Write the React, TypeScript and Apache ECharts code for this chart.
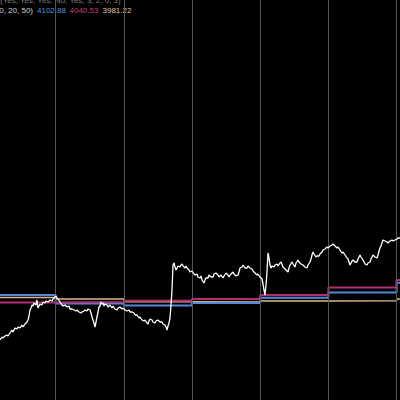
import React, { useEffect, useRef } from "react";
import * as echarts from "echarts";

// time unit: ticks (0..400 visible window); value: index points
const dayStarts = [55.6, 123.8, 192.0, 260.2, 328.4, 396.6];

const maBlue = [4005, 3996.5, 3994.5, 3997, 4002.3, 4007.5, 4017.3];
const maMagenta = [3997.5, 3998, 3999.2, 4001, 4005, 4012.5, 4020];
const maOrange = [4002.5, 4001, 3998.2, 3998, 3999, 3999.2, 4001];

const legendHeader = "(Yes, Yes, Yes, No, Yes, 3, 2, 0, 3)";
const legendTitle = "MA(10, 20, 50)";
const legendValues = ["4102.88", "4040.53", "3981.22"];

const priceT = [
  0, 2, 3, 5, 7, 8, 10, 12, 13, 15, 17, 18, 20, 22, 23, 25, 27, 28, 29, 30, 31, 32, 33, 34, 36, 37, 38, 39, 40, 42, 43, 45, 46, 48, 50, 52, 53, 55, 56,
  57, 58, 60, 62, 63, 65, 67, 69, 70, 72, 74, 76, 77, 79, 81, 82, 84, 85, 87, 88, 90, 91, 92, 93, 95, 96, 97, 98, 99, 100, 101, 102, 103, 104, 105, 107, 108, 110, 112, 113, 115, 117, 118, 120, 122, 123, 125,
  127, 129, 130, 132, 134, 135, 137, 139, 140, 142, 144, 145, 147, 148, 149, 150, 152, 153, 155, 156, 158, 160, 162, 163, 165, 166, 167, 168, 169, 170, 171, 172, 173, 174, 175, 176, 177, 178, 180, 181, 182, 184, 185, 186, 187, 189, 190, 192,
  194, 195, 197, 198, 200, 201, 202, 204, 205, 206, 208, 209, 211, 213, 214, 216, 218, 219, 221, 223, 224, 226, 228, 229, 231, 233, 234, 236, 238, 239, 240, 242, 243, 245, 247, 248, 250, 252, 253, 255, 257, 258, 260, 261, 262, 263, 264, 265, 266, 267, 268, 269, 270,
  271, 272, 274, 275, 277, 278, 280, 281, 283, 285, 286, 288, 289, 290, 292, 293, 295, 296, 298, 299, 301, 303, 305, 307, 308, 310, 311, 312, 313, 314, 316, 317, 319, 320, 322, 323, 325, 327, 328,
  330, 332, 333, 335, 337, 338, 340, 342, 343, 345, 347, 348, 349, 350, 351, 352, 353, 355, 357, 358, 360, 361, 363, 364, 365, 367, 368, 370, 371, 372, 373, 375, 377, 378, 379, 380, 381, 382, 383, 385, 387, 388, 390, 392, 393, 395, 397, 398, 400,
];

const priceV = [
  3960, 3963, 3962, 3964, 3965, 3964, 3967, 3970, 3968, 3972, 3971, 3973, 3972, 3975, 3973, 3976, 3978, 3980, 3984, 3990, 3992, 3995, 3994, 3997, 3995, 4000, 3992, 3994, 3996, 3995, 3998, 3997, 3999, 3998, 4000, 3999, 4001, 4003, 4004,
  4002, 4001, 3998, 3995, 3994, 3995, 3993, 3994, 3991, 3991, 3990, 3989, 3990, 3988, 3987, 3988, 3989, 3990, 3989, 3991, 3990, 3987, 3983, 3980, 3973, 3978, 3983, 3988, 3993, 3994, 3998, 3996, 3997, 3994, 3996, 3995, 3993, 3995, 3992, 3994, 3991, 3990, 3992, 3993, 3991, 3992, 3990,
  3989, 3990, 3988, 3988, 3987, 3985, 3985, 3982, 3983, 3980, 3979, 3980, 3977, 3976, 3979, 3981, 3980, 3978, 3977, 3979, 3980, 3978, 3978, 3976, 3975, 3973, 3970, 3974, 3977, 3982, 3995, 4010, 4035, 4037, 4033, 4030, 4032, 4034, 4033, 4035, 4036, 4033, 4032, 4034, 4032, 4030, 4028, 4029,
  4026, 4025, 4026, 4023, 4022, 4024, 4020, 4017, 4020, 4022, 4022, 4025, 4023, 4023, 4026, 4027, 4025, 4023, 4025, 4022, 4024, 4027, 4025, 4023, 4026, 4028, 4026, 4024, 4025, 4028, 4032, 4033, 4035, 4032, 4032, 4034, 4032, 4031, 4029, 4027, 4025, 4026, 4023, 4022, 4021, 4016, 4010, 4005, 4015, 4028, 4047, 4042, 4035,
  4032, 4034, 4033, 4035, 4036, 4034, 4037, 4038, 4033, 4031, 4030, 4028, 4032, 4035, 4038, 4036, 4033, 4037, 4040, 4038, 4036, 4035, 4033, 4032, 4035, 4038, 4041, 4045, 4048, 4046, 4043, 4044, 4044, 4046, 4048, 4050, 4051, 4053, 4052,
  4054, 4055, 4056, 4054, 4052, 4053, 4050, 4047, 4048, 4045, 4042, 4041, 4038, 4035, 4037, 4039, 4040, 4038, 4038, 4041, 4045, 4043, 4040, 4038, 4036, 4035, 4037, 4038, 4041, 4043, 4045, 4043, 4042, 4045, 4049, 4052, 4054, 4057, 4060, 4059, 4058, 4057, 4059, 4060, 4059, 4060, 4061, 4062, 4062,
];

const VIEW_START = 0;
const VIEW_END = 400;

function stepData(values: number[]) {
  const starts = [VIEW_START, ...dayStarts];
  const pts: [number, number][] = starts.map((t, i) => [t, values[i]]);
  pts.push([VIEW_END, values[values.length - 1]]);
  return pts;
}

const BLUE = "#5587d6";
const MAGENTA = "#b0306f";
const ORANGE = "#d8b98c";

export default function App() {
  const ref = useRef<HTMLDivElement>(null);
  useEffect(() => {
    document.body.style.margin = "0";
    const chart = echarts.init(ref.current!, undefined, { renderer: "svg" });
    const font = '8px "Liberation Sans", Arial, sans-serif';
    const option: any = {
      animation: false,
      backgroundColor: "#000",
      grid: { left: 0, right: 0, top: 0, bottom: 0 },
      xAxis: { type: "value", min: VIEW_START, max: VIEW_END, show: false },
      yAxis: { type: "value", min: 3900, max: 4300, show: false },
      series: [
        {
          type: "line",
          name: "days",
          data: [],
          z: 1,
          silent: true,
          markLine: {
            silent: true,
            symbol: "none",
            label: { show: false },
            lineStyle: { color: "#555555", type: "solid", width: 1 },
            data: dayStarts.map((t) => ({ xAxis: t })),
          },
        },
        {
          type: "line",
          name: "MA50",
          data: stepData(maOrange),
          step: "end",
          showSymbol: false,
          z: 2,
          lineStyle: { color: ORANGE, width: 1.5 },
        },
        {
          type: "line",
          name: "MA10",
          data: stepData(maBlue),
          step: "end",
          showSymbol: false,
          z: 3,
          lineStyle: { color: BLUE, width: 2 },
        },
        {
          type: "line",
          name: "MA20",
          data: stepData(maMagenta),
          step: "end",
          showSymbol: false,
          z: 4,
          lineStyle: { color: MAGENTA, width: 2 },
        },
        {
          type: "line",
          name: "price",
          data: priceT.map((t, i) => [t, priceV[i]]),
          showSymbol: false,
          z: 5,
          lineStyle: { color: "#ffffff", width: 1.3 },
        },
      ],
      graphic: [
        {
          type: "text",
          x: 0,
          y: 0.5,
          style: { text: legendHeader, fill: "#7a7a7a", font, textAlign: "left", textVerticalAlign: "middle", align: "left", verticalAlign: "middle" },
        },
        {
          type: "text",
          x: 33,
          y: 10.5,
          style: { text: legendTitle, fill: "#cfcfcf", font, textAlign: "right", textVerticalAlign: "middle", align: "right", verticalAlign: "middle" },
        },
        {
          type: "text",
          x: 37,
          y: 10.5,
          style: { text: legendValues[0], fill: "#5b8fdf", font, textAlign: "left", textVerticalAlign: "middle", align: "left", verticalAlign: "middle" },
        },
        {
          type: "text",
          x: 69.5,
          y: 10.5,
          style: { text: legendValues[1], fill: "#c43d7c", font, textAlign: "left", textVerticalAlign: "middle", align: "left", verticalAlign: "middle" },
        },
        {
          type: "text",
          x: 102.5,
          y: 10.5,
          style: { text: legendValues[2], fill: "#e2c6a0", font, textAlign: "left", textVerticalAlign: "middle", align: "left", verticalAlign: "middle" },
        },
      ],
    };
    chart.setOption(option);
    return () => chart.dispose();
  }, []);
  return (
    <div
      ref={ref}
      style={{ position: "absolute", left: 0, top: 0, width: 400, height: 400, background: "#000" }}
    />
  );
}
